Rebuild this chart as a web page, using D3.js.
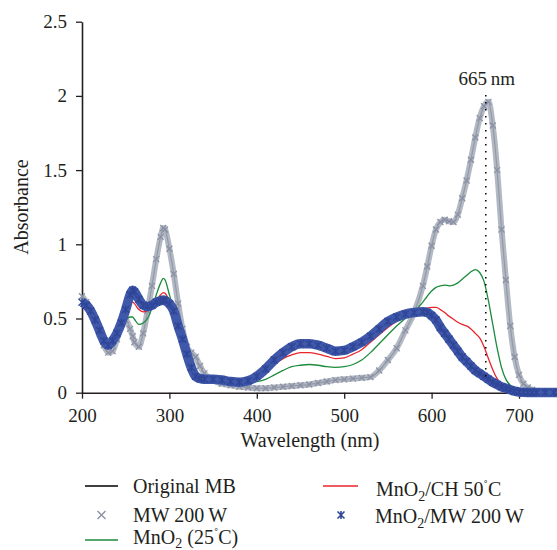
<!DOCTYPE html>
<html>
<head>
<meta charset="utf-8">
<script src="https://cdn.jsdelivr.net/npm/d3@7"></script>
<style>
body { margin: 0; background: #fff; }
svg { display: block; font-family: "Liberation Serif", "Times New Roman", serif; }
</style>
</head>
<body>
<div id="chart"></div>
<script>
// wavelength (nm), shared by every series
var wavelength = [
    200, 205, 210, 215, 220, 225, 230, 235, 240, 245,
    250, 255, 258, 260, 265, 270, 275, 280, 285, 290,
    293, 295, 300, 305, 310, 315, 320, 325, 330, 335,
    340, 350, 360, 370, 380, 390, 400, 410, 420, 430,
    440, 450, 460, 470, 480, 490, 500, 510, 520, 530,
    540, 550, 560, 570, 580, 590, 595, 600, 605, 610,
    615, 620, 625, 630, 635, 640, 645, 650, 655, 660,
    665, 670, 675, 680, 685, 690, 695, 700, 705, 710,
    715, 720, 730, 740, 745
];

// Original MB (the MW 200 W markers sit on the same curve)
var originalMB = [
    0.65, 0.61, 0.55, 0.48, 0.40, 0.32, 0.27, 0.28, 0.36, 0.46,
    0.49, 0.43, 0.38, 0.34, 0.31, 0.40, 0.55, 0.72, 0.90, 1.05,
    1.11, 1.10, 0.97, 0.80, 0.60, 0.43, 0.31, 0.27, 0.24, 0.18,
    0.13, 0.085, 0.06, 0.05, 0.04, 0.035, 0.03, 0.03, 0.035, 0.04,
    0.045, 0.05, 0.055, 0.065, 0.075, 0.085, 0.09, 0.095, 0.10, 0.105,
    0.15, 0.22, 0.30, 0.42, 0.54, 0.72, 0.85, 0.99, 1.10, 1.15,
    1.165, 1.155, 1.15, 1.20, 1.31, 1.43, 1.57, 1.72, 1.85, 1.93,
    1.96, 1.80, 1.50, 1.10, 0.76, 0.45, 0.24, 0.12, 0.06, 0.035,
    0.02, 0.012, 0.008, 0.006, 0.005
];
var mw200W = originalMB;

var mno2_25C = [
    0.61, 0.59, 0.55, 0.49, 0.42, 0.35, 0.32, 0.35, 0.40, 0.45,
    0.49, 0.51, 0.51, 0.495, 0.46, 0.47, 0.50, 0.57, 0.66, 0.74,
    0.77, 0.76, 0.66, 0.56, 0.45, 0.35, 0.24, 0.15, 0.11, 0.09,
    0.085, 0.08, 0.075, 0.07, 0.07, 0.07, 0.075, 0.09, 0.12, 0.15,
    0.175, 0.185, 0.19, 0.185, 0.175, 0.17, 0.175, 0.19, 0.22, 0.27,
    0.33, 0.39, 0.45, 0.50, 0.545, 0.61, 0.65, 0.685, 0.71, 0.72,
    0.725, 0.72, 0.725, 0.74, 0.765, 0.79, 0.815, 0.83, 0.81, 0.75,
    0.62, 0.46, 0.30, 0.17, 0.09, 0.05, 0.03, 0.02, 0.012, 0.008,
    0.005, 0.003, 0.002, 0.002, 0.002
];

var mno2CH50C = [
    0.61, 0.59, 0.55, 0.49, 0.42, 0.35, 0.32, 0.35, 0.40, 0.46,
    0.53, 0.60, 0.61, 0.60, 0.56, 0.545, 0.555, 0.58, 0.62, 0.66,
    0.675, 0.67, 0.62, 0.55, 0.45, 0.36, 0.26, 0.17, 0.11, 0.095,
    0.09, 0.085, 0.08, 0.075, 0.075, 0.08, 0.10, 0.14, 0.19, 0.23,
    0.255, 0.27, 0.27, 0.26, 0.245, 0.23, 0.235, 0.26, 0.29, 0.34,
    0.39, 0.44, 0.48, 0.51, 0.54, 0.56, 0.57, 0.575, 0.575, 0.56,
    0.54, 0.515, 0.495, 0.475, 0.46, 0.45, 0.43, 0.40, 0.37, 0.31,
    0.23, 0.155, 0.095, 0.06, 0.04, 0.025, 0.015, 0.01, 0.007, 0.005,
    0.004, 0.003, 0.002, 0.002, 0.002
];

var mno2MW200W = [
    0.61, 0.59, 0.55, 0.49, 0.42, 0.35, 0.32, 0.35, 0.40, 0.47,
    0.56, 0.66, 0.69, 0.68, 0.63, 0.59, 0.58, 0.59, 0.61, 0.62,
    0.625, 0.62, 0.60, 0.55, 0.45, 0.36, 0.26, 0.17, 0.11, 0.095,
    0.09, 0.09, 0.085, 0.075, 0.07, 0.08, 0.11, 0.16, 0.22, 0.27,
    0.31, 0.33, 0.33, 0.32, 0.30, 0.28, 0.285, 0.31, 0.34, 0.38,
    0.43, 0.48, 0.51, 0.53, 0.54, 0.545, 0.54, 0.52, 0.49, 0.44,
    0.40, 0.36, 0.32, 0.28, 0.24, 0.21, 0.18, 0.15, 0.13, 0.11,
    0.09, 0.07, 0.055, 0.04, 0.03, 0.02, 0.01, 0.005, 0.003, 0.002,
    0.002, 0.002, 0.002, 0.002, 0.002
];

var xTicks = [200, 300, 400, 500, 600, 700];
var yTicks = [0, 0.5, 1, 1.5, 2, 2.5];
var peakWavelength = 662;
var peakLabel = '665\u2009nm';
var peakLineRange = [0.11, 2.04];

var svgWidth = 557;
var svgHeight = 550;

var svg = d3.select('#chart')
    .append('svg')
    .attr('width', svgWidth)
    .attr('height', svgHeight);

var xScale = d3.scaleLinear().domain([200, 750]).range([82, 562.7]);
var yScale = d3.scaleLinear().domain([0, 2.5]).range([392.7, 21.7]);

var axisColor = '#231f20';

// axes
var xAxis = d3.axisBottom(xScale).tickValues(xTicks).tickSize(6).tickSizeOuter(0).tickPadding(10);
var yAxis = d3.axisLeft(yScale).tickValues(yTicks).tickSize(6).tickSizeOuter(0).tickPadding(9)
    .tickFormat(d3.format('~g'));

var xg = svg.append('g')
    .attr('transform', `translate(0, ${yScale(0)})`)
    .call(xAxis);
var yg = svg.append('g')
    .attr('transform', `translate(${xScale(200)}, 0)`)
    .call(yAxis);

[xg, yg].forEach(function(g) {
    g.attr('font-family', null).attr('font-size', null);
    g.select('.domain').attr('stroke', axisColor).attr('stroke-width', 1.6);
    g.selectAll('.tick line').attr('stroke', axisColor).attr('stroke-width', 1.3);
    g.selectAll('.tick text').attr('fill', axisColor).style('font-size', '19px');
});

svg.append('text')
    .attr('x', 310)
    .attr('y', 447)
    .attr('text-anchor', 'middle')
    .style('font-size', '20px')
    .attr('fill', axisColor)
    .text('Wavelength (nm)');

svg.append('text')
    .attr('transform', 'translate(28, 207) rotate(-90)')
    .attr('text-anchor', 'middle')
    .style('font-size', '20px')
    .attr('fill', axisColor)
    .text('Absorbance');

// curves
function seriesPoints(values) {
    return wavelength.map(function(w, i) { return [w, values[i]]; });
}

var line = d3.line()
    .x(d => xScale(d[0]))
    .y(d => yScale(d[1]))
    .curve(d3.curveMonotoneX);

var grayBand = '#a9afbc';
var grayMark = '#8a91a4';
var blueBand = '#4058aa';
var blueMark = '#2f4698';
var green = '#1c8b3d';
var red = '#e8252b';

var plot = svg.append('g');

// black line sits under the dense gray markers, showing only faintly
plot.append('path')
    .attr('d', line(seriesPoints(originalMB)))
    .attr('fill', 'none')
    .attr('stroke', '#000')
    .attr('stroke-width', 1.2);

plot.append('path')
    .attr('d', line(seriesPoints(mw200W)))
    .attr('fill', 'none')
    .attr('stroke', grayBand)
    .attr('stroke-width', 6)
    .attr('stroke-opacity', 0.88)
    .attr('stroke-linejoin', 'round');

var crossPath = 'M-3,-3L3,3M-3,3L3,-3';
var starPath = 'M-3.5,-3.5L3.5,3.5M-3.5,3.5L3.5,-3.5M0,-4L0,4';

plot.selectAll('.mw-mark')
    .data(seriesPoints(mw200W))
    .enter()
    .append('path')
    .attr('class', 'mw-mark')
    .attr('transform', d => `translate(${xScale(d[0])}, ${yScale(d[1])})`)
    .attr('d', crossPath)
    .attr('stroke', grayMark)
    .attr('stroke-width', 1.3)
    .attr('fill', 'none');

plot.append('path')
    .attr('d', line(seriesPoints(mno2_25C)))
    .attr('fill', 'none')
    .attr('stroke', green)
    .attr('stroke-width', 1.3);

plot.append('path')
    .attr('d', line(seriesPoints(mno2CH50C)))
    .attr('fill', 'none')
    .attr('stroke', red)
    .attr('stroke-width', 1.3);

plot.append('path')
    .attr('d', line(seriesPoints(mno2MW200W)))
    .attr('fill', 'none')
    .attr('stroke', blueBand)
    .attr('stroke-width', 9.5)
    .attr('stroke-linejoin', 'round');

plot.selectAll('.blue-mark')
    .data(seriesPoints(mno2MW200W))
    .enter()
    .append('path')
    .attr('class', 'blue-mark')
    .attr('transform', d => `translate(${xScale(d[0])}, ${yScale(d[1])})`)
    .attr('d', starPath)
    .attr('stroke', blueMark)
    .attr('stroke-width', 1.4)
    .attr('fill', 'none');

// 665 nm marker
svg.append('line')
    .attr('x1', xScale(peakWavelength))
    .attr('x2', xScale(peakWavelength))
    .attr('y1', yScale(peakLineRange[0]))
    .attr('y2', yScale(peakLineRange[1]))
    .attr('stroke', '#000')
    .attr('stroke-width', 1.5)
    .attr('stroke-dasharray', '1.5,5.5');

svg.append('text')
    .attr('x', xScale(peakWavelength) + 1)
    .attr('y', 85)
    .attr('text-anchor', 'middle')
    .style('font-size', '19px')
    .attr('fill', axisColor)
    .text(peakLabel);

// legend
var legend = svg.append('g').style('font-size', '20px').attr('fill', axisColor);

function legendLine(x1, x2, y, color) {
    legend.append('line')
        .attr('x1', x1).attr('x2', x2).attr('y1', y).attr('y2', y)
        .attr('stroke', color).attr('stroke-width', 1.3);
}

legendLine(85, 118, 486, '#000');
legendLine(85, 118, 540, green);
legendLine(323, 358, 486, red);

legend.append('path')
    .attr('transform', 'translate(101.5, 515)')
    .attr('d', 'M-4,-4L4,4M-4,4L4,-4')
    .attr('stroke', grayMark).attr('stroke-width', 1.4).attr('fill', 'none');

legend.append('path')
    .attr('transform', 'translate(341, 515)')
    .attr('d', starPath)
    .attr('stroke', blueMark).attr('stroke-width', 1.6).attr('fill', 'none');

legend.append('text').attr('x', 133).attr('y', 493).text('Original MB');
legend.append('text').attr('x', 133).attr('y', 522).text('MW 200\u2009W');

var t3 = legend.append('text').attr('x', 133).attr('y', 544);
t3.append('tspan').text('MnO');
t3.append('tspan').attr('dy', 4).style('font-size', '14px').text('2');
t3.append('tspan').attr('dy', -4).text(' (25');
t3.append('tspan').attr('dy', -7).style('font-size', '13px').text('\u02da');
t3.append('tspan').attr('dy', 7).text('C)');

var t4 = legend.append('text').attr('x', 376).attr('y', 496);
t4.append('tspan').text('MnO');
t4.append('tspan').attr('dy', 5).style('font-size', '14px').text('2');
t4.append('tspan').attr('dy', -5).text('/CH 50');
t4.append('tspan').attr('dy', -7).style('font-size', '13px').text('\u02da');
t4.append('tspan').attr('dy', 7).text('C');

var t5 = legend.append('text').attr('x', 375).attr('y', 523);
t5.append('tspan').text('MnO');
t5.append('tspan').attr('dy', 5).style('font-size', '14px').text('2');
t5.append('tspan').attr('dy', -5).text('/MW 200\u2009W');
</script>
</body>
</html>
